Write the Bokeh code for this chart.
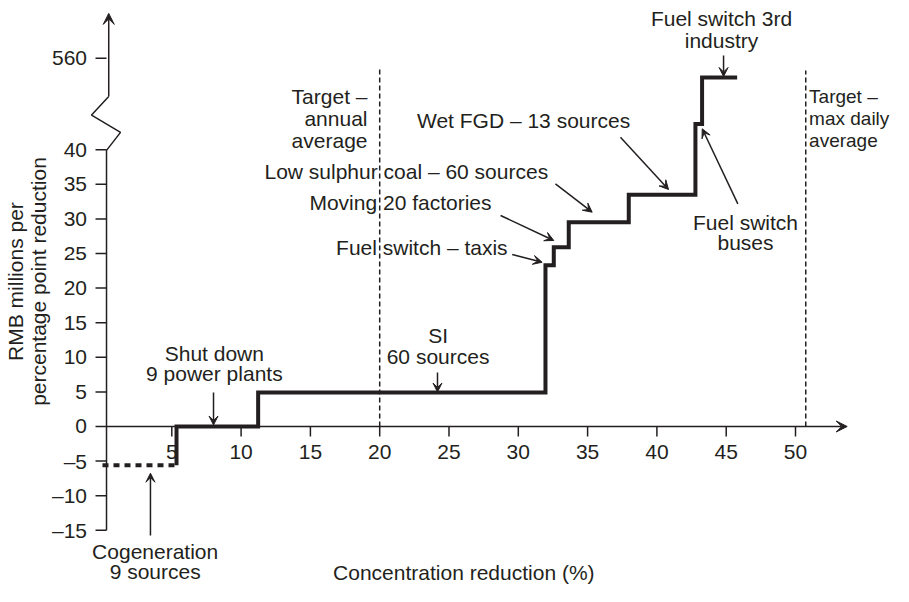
from bokeh.plotting import figure
from bokeh.models import Arrow, VeeHead, Range1d
from bokeh.core.properties import value
from bokeh.embed import file_html
from bokeh.resources import INLINE

# ---------------- data ----------------
measures = ["Cogeneration 9 sources", "Shut down 9 power plants", "SI 60 sources",
            "Fuel switch – taxis", "Moving 20 factories", "Low sulphur coal – 60 sources",
            "Wet FGD – 13 sources", "Fuel switch buses", "Fuel switch 3rd industry"]
step_edges = [0, 5.34, 11.23, 31.96, 32.56, 33.64, 37.97, 42.78, 43.26, 45.79]
step_costs = [-5.6, 0, 4.9, 23.3, 25.9, 29.5, 33.5, 43.7, 550]
target_names = ["annual average", "max daily average"]
target_x = [20, 50.74]
x_ticks = [5, 10, 15, 20, 25, 30, 35, 40, 45, 50]
y_ticks = [-15, -10, -5, 0, 5, 10, 15, 20, 25, 30, 35, 40, 560]

# ---------------- axis break ----------------
BREAK_VAL = 560
BREAK_POS = 53.22
BREAK_SCALE = 0.28


def ydisp(v):
    return v if v <= 100 else BREAK_POS + (v - BREAK_VAL) * BREAK_SCALE


def fmt(v):
    return ("\u2013" + str(-v)) if v < 0 else str(v)


INK = "#231f20"
FONT = value("Liberation Sans")
FS = value("21px")

W, H = 893, 586
X0, X1 = -7.3593, 57.0707
Y0, Y1 = -23.1214, 61.5607
PXX = W / (X1 - X0)
PXY = H / (Y1 - Y0)
BL = 8.5 / PXY          # baseline correction for alphabetic texts (data units)
BLX = 8.5 / PXX         # same for the rotated axis title

p = figure(width=W, height=H, output_backend="svg", toolbar_location=None,
           x_range=Range1d(X0, X1), y_range=Range1d(Y0, Y1), min_border=0,
           background_fill_color="white", border_fill_color="white")
p.axis.visible = False
p.grid.visible = False
p.outline_line_color = None

AXIS_X = 0.29

# ---------------- target lines ----------------
target_top = [51.69, 51.45]
p.segment(x0=target_x, y0=[0, 0], x1=target_x, y1=target_top,
          line_color=INK, line_width=1.5, line_dash="5 3")

# ---------------- axes ----------------
p.add_layout(Arrow(x_start=AXIS_X, y_start=0, x_end=53.73, y_end=0, line_color=INK,
                   line_width=1.5,
                   end=VeeHead(size=11, fill_color=INK, line_color=INK, line_width=1)))
p.line(x=[AXIS_X, AXIS_X, 1.30, -0.79, 0.45], y=[-15, 39.9, 42.5, 45.0, 47.7],
       line_color=INK, line_width=1.5)
p.add_layout(Arrow(x_start=0.45, y_start=47.7, x_end=0.45, y_end=59.7, line_color=INK,
                   line_width=1.5,
                   end=VeeHead(size=11, fill_color=INK, line_color=INK, line_width=1)))

p.segment(x0=x_ticks, y0=[0] * len(x_ticks), x1=x_ticks, y1=[-10 / PXY] * len(x_ticks),
          line_color=INK, line_width=1.5)
yt_disp = [ydisp(v) for v in y_ticks]
p.segment(x0=[AXIS_X - 11 / PXX] * len(y_ticks), y0=yt_disp,
          x1=[AXIS_X] * len(y_ticks), y1=yt_disp, line_color=INK, line_width=1.5)

p.text(x=x_ticks, y=[-34 / PXY + BL] * len(x_ticks), text=[str(v) for v in x_ticks],
       text_align="center", text_baseline="alphabetic", text_font=FONT,
       text_font_size=FS, text_color=INK)
p.text(x=[AXIS_X - 19.5 / PXX] * len(y_ticks), y=yt_disp, text=[fmt(v) for v in y_ticks],
       text_align="right", text_baseline="middle", text_font=FONT,
       text_font_size=FS, text_color=INK)

# axis titles
p.text(x=[26.07], y=[(426 - 581) / PXY + BL], text=["Concentration reduction (%)"],
       text_align="center", text_baseline="alphabetic", text_font=FONT,
       text_font_size=FS, text_color=INK)
p.text(x=[-5.63 - BLX, -4.04 - BLX], y=[20.95, 20.95],
       text=["RMB millions per", "percentage point reduction"], angle=1.5707963,
       text_align="center", text_baseline="alphabetic", text_font=FONT,
       text_font_size=FS, text_color=INK)

# ---------------- step curve ----------------
lv = [ydisp(v) for v in step_costs]
p.line(x=[step_edges[0], step_edges[1]], y=[lv[0], lv[0]], line_color=INK,
       line_width=4, line_dash="6 5")
sx, sy = [step_edges[1]], [lv[0]]
for i in range(1, len(step_costs)):
    sx += [step_edges[i], step_edges[i + 1]]
    sy += [lv[i], lv[i]]
p.line(x=sx, y=sy, line_color=INK, line_width=4, line_join="miter")

# ---------------- annotations ----------------
labels = [
    (["Target \u2013", "annual", "average"], 19.12, [46.39, 43.28, 40.17], "right", "21px"),
    (["Target \u2013", "max daily", "average"], 50.98, [46.39, 43.28, 40.17], "left", "19px"),
    (["Wet FGD \u2013 13 sources"], 30.38, [43.05], "center", "21px"),
    (["Low sulphur coal \u2013 60 sources"], 21.92, [35.55], "center", "21px"),
    (["Moving 20 factories"], 21.5, [31.07], "center", "21px"),
    (["Fuel switch \u2013 taxis"], 23.04, [24.71], "center", "21px"),
    (["SI", "60 sources"], 24.21, [11.99, 8.89], "center", "21px"),
    (["Shut down", "9 power plants"], 8.07, [9.29, 6.40], "center", "21px"),
    (["Cogeneration", "9 sources"], 3.80, [-19.36, -22.25], "center", "21px"),
    (["Fuel switch 3rd", "industry"], 44.66, [57.70, 54.58], "center", "21px"),
    (["Fuel switch", "buses"], 46.39, [28.32, 25.29], "center", "21px"),
]
for lines, x, ys, align, fs in labels:
    p.text(x=[x] * len(lines), y=[y + BL for y in ys], text=lines, text_align=align,
           text_baseline="alphabetic", text_font=FONT, text_font_size=value(fs),
           text_color=INK)

arrows = [
    (37.37, 41.81, 40.84, 34.25),
    (32.68, 35.07, 35.33, 30.97),
    (28.72, 30.49, 32.56, 26.88),
    (29.56, 24.86, 31.72, 23.74),
    (24.17, 7.80, 24.17, 4.99),
    (8.01, 4.91, 8.01, 0.22),
    (3.46, -15.75, 3.46, -6.75),
    (44.81, 53.61, 44.81, 50.58),
    (45.84, 32.18, 43.27, 43.02),
]
for xa, ya, xb, yb in arrows:
    p.add_layout(Arrow(x_start=xa, y_start=ya, x_end=xb, y_end=yb, line_color=INK,
                       line_width=1.5,
                       end=VeeHead(size=9, fill_color=INK, line_color=INK, line_width=1)))

open("out.html", "w").write(file_html(p, INLINE))
